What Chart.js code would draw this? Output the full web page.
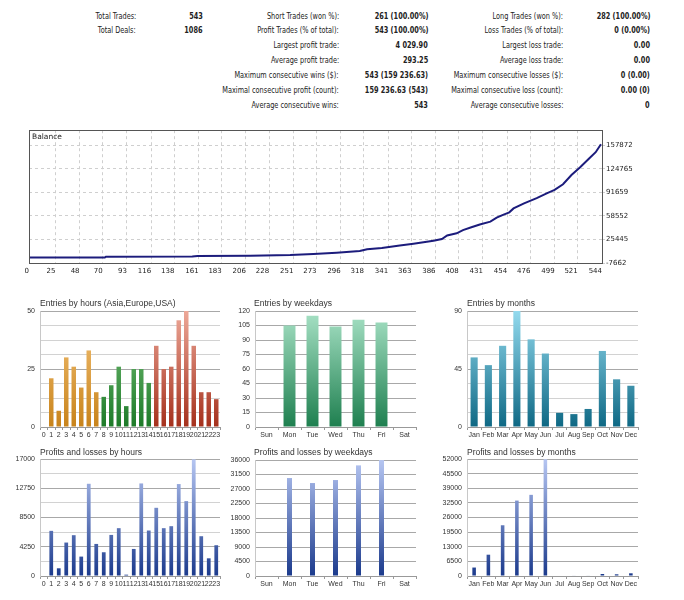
<!DOCTYPE html>
<html>
<head>
<meta charset="utf-8">
<script src="https://cdn.jsdelivr.net/npm/chart.js@4.4.1/dist/chart.umd.min.js"></script>
<style>
  body { margin: 0; background: #fff; width: 684px; height: 600px; position: relative; overflow: hidden; }
  .st { position: absolute; white-space: nowrap; font: 9px "DejaVu Sans Condensed", "DejaVu Sans", sans-serif; color: #222; line-height: 12px; text-align: right; transform: scaleX(0.81); transform-origin: right center; }
  .st.v { font-weight: bold; }
  .ttl { position: absolute; white-space: nowrap; font: 8.5px "Liberation Sans", Arial, sans-serif; color: #333; line-height: 12px; }
  canvas { position: absolute; }
</style>
</head>
<body>
<div id="stats"></div>
<canvas id="balance" width="684" height="155" style="left:0;top:125px"></canvas>
<div class="ttl" style="left:32px;top:132px;font:7.5px 'DejaVu Sans',sans-serif;color:#222">Balance</div>

<canvas id="hoursEntries" width="230" height="150" style="left:0;top:290px"></canvas>
<canvas id="daysEntries" width="230" height="150" style="left:225px;top:290px"></canvas>
<canvas id="monthsEntries" width="234" height="150" style="left:450px;top:290px"></canvas>
<canvas id="hoursProfit" width="230" height="150" style="left:0;top:440px"></canvas>
<canvas id="daysProfit" width="230" height="150" style="left:225px;top:440px"></canvas>
<canvas id="monthsProfit" width="256" height="150" style="left:428px;top:440px"></canvas>

<div class="ttl" style="left:40px;top:297px">Entries by hours (Asia,Europe,USA)</div>
<div class="ttl" style="left:254px;top:297px">Entries by weekdays</div>
<div class="ttl" style="left:467px;top:297px">Entries by months</div>
<div class="ttl" style="left:40px;top:446px">Profits and losses by hours</div>
<div class="ttl" style="left:254px;top:446px">Profits and losses by weekdays</div>
<div class="ttl" style="left:467px;top:446px">Profits and losses by months</div>

<script>
// summary table (label, value) x 3 columns
const statRows = [
  ["Total Trades:", "543", "Short Trades (won %):", "261 (100.00%)", "Long Trades (won %):", "282 (100.00%)"],
  ["Total Deals:", "1086", "Profit Trades (% of total):", "543 (100.00%)", "Loss Trades (% of total):", "0 (0.00%)"],
  ["", "", "Largest profit trade:", "4 029.90", "Largest loss trade:", "0.00"],
  ["", "", "Average profit trade:", "293.25", "Average loss trade:", "0.00"],
  ["", "", "Maximum consecutive wins ($):", "543 (159 236.63)", "Maximum consecutive losses ($):", "0 (0.00)"],
  ["", "", "Maximal consecutive profit (count):", "159 236.63 (543)", "Maximal consecutive loss (count):", "0.00 (0)"],
  ["", "", "Average consecutive wins:", "543", "Average consecutive losses:", "0"],
];

// balance curve (trade number -> balance)
const balanceTrades = [0, 72, 73, 155, 160, 210, 248, 270, 292, 314, 321, 335, 352, 365, 384, 392, 397, 406, 412, 420, 428, 438, 444, 450, 456, 460, 470, 482, 492, 499, 507, 515, 523, 532, 538, 543];
const balanceValues = [0, 0, 1100, 1500, 2200, 2600, 3600, 4900, 6700, 9100, 11500, 13500, 17000, 19500, 23500, 26000, 31000, 34000, 38500, 42500, 46500, 50500, 56000, 60000, 63500, 69000, 76000, 83500, 90500, 95000, 103000, 116000, 126500, 139500, 148000, 159237];
const balanceXTicks = [0, 25, 48, 70, 93, 116, 138, 161, 183, 206, 228, 251, 273, 296, 318, 341, 363, 386, 408, 431, 454, 476, 499, 521, 544];
const balanceYTicks = [-7662, 25445, 58552, 91659, 124765, 157872];

const hourLabels = ["0", "1", "2", "3", "4", "5", "6", "7", "8", "9", "10", "11", "12", "13", "14", "15", "16", "17", "18", "19", "20", "21", "22", "23"];
const hourEntries = [0, 21, 7, 30, 26, 17, 33, 15, 13, 18, 26, 9, 25, 25, 19, 35, 25, 26, 46, 50, 35, 15, 15, 12];
const hourProfits = [0, 6560, 1120, 4860, 5930, 2820, 13400, 4660, 3450, 5970, 6950, 190, 3930, 13450, 6610, 9910, 6950, 7240, 13360, 10880, 16950, 5780, 2570, 4470];

const dayLabels = ["Sun", "Mon", "Tue", "Wed", "Thu", "Fri", "Sat"];
const dayEntries = [0, 105, 115, 104, 111, 108, 0];
const dayProfits = [0, 30400, 28850, 29780, 34330, 35980, 0];

const monthLabels = ["Jan", "Feb", "Mar", "Apr", "May", "Jun", "Jul", "Aug", "Sep", "Oct", "Nov", "Dec"];
const monthEntries = [54, 48, 63, 90, 68, 57, 11, 10, 14, 59, 37, 32];
const monthProfits = [3760, 9470, 22550, 33520, 36070, 51900, 0, 200, 200, 900, 750, 1200];

// ---- summary text
const statRowY = [10, 24, 39, 54, 69, 84, 99];
const statRight = [136, 203, 339, 428, 563, 650];
const statsDiv = document.getElementById("stats");
statRows.forEach((row, r) => {
  row.forEach((txt, c) => {
    if (!txt) return;
    const d = document.createElement("div");
    d.className = "st" + (c % 2 ? " v" : "");
    d.style.right = (684 - statRight[c]) + "px";
    d.style.top = statRowY[r] + "px";
    d.textContent = txt;
    statsDiv.appendChild(d);
  });
});

Chart.defaults.font.family = "'Liberation Sans', Arial, sans-serif";
Chart.defaults.font.size = 7;
Chart.defaults.color = "#444";

// draws the frame round the plot area
const frame = {
  id: "frame",
  afterDraw(chart, args, opts) {
    if (!opts.color) return;
    const a = chart.chartArea, c = chart.ctx;
    c.save();
    c.strokeStyle = opts.color;
    c.lineWidth = 1;
    c.strokeRect(Math.round(a.left) + 0.5, Math.round(a.top) + 0.5, Math.round(a.right - a.left), Math.round(a.bottom - a.top));
    c.restore();
  },
};

// ---- balance
new Chart(document.getElementById("balance"), {
  type: "line",
  data: {
    datasets: [{
      data: balanceTrades.map((t, i) => ({ x: t, y: balanceValues[i] })),
      borderColor: "#1c1c7c",
      borderWidth: 2,
      pointRadius: 0,
      tension: 0,
    }],
  },
  options: {
    responsive: false,
    animation: false,
    layout: { padding: { left: 29, top: 5, right: 0, bottom: 0 } },
    plugins: { legend: { display: false }, tooltip: { enabled: false }, frame: { color: "#555" } },
    scales: {
      x: {
        type: "linear", min: 0, max: 544,
        afterBuildTicks: (s) => { s.ticks = balanceXTicks.map((v) => ({ value: v })); },
        afterFit: (s) => { s.height = 17; },
        ticks: { autoSkip: false, maxRotation: 0, padding: 4, align: "end", color: "#222", font: { family: "'DejaVu Sans', sans-serif", size: 7 }, callback: (v) => String(v) },
        grid: { color: "#cfcfcf", drawTicks: false },
        border: { display: false, dash: [3, 3] },
      },
      y: {
        position: "right", min: -7662, max: 178900,
        afterBuildTicks: (s) => { s.ticks = balanceYTicks.map((v) => ({ value: v })); },
        afterFit: (s) => { s.width = 82; },
        ticks: { padding: 1, color: "#222", font: { family: "'DejaVu Sans', sans-serif", size: 7 }, callback: (v) => String(v) },
        grid: { color: "#cfcfcf", drawTicks: true, tickLength: 3 },
        border: { display: false, dash: [3, 3] },
      },
    },
  },
  plugins: [frame],
});

// ---- bar charts
function gradient(top, bottom) {
  return (ctx) => {
    const a = ctx.chart.chartArea;
    if (!a) return bottom;
    const g = ctx.chart.ctx.createLinearGradient(0, a.top, 0, a.bottom);
    g.addColorStop(0, top);
    g.addColorStop(1, bottom);
    return g;
  };
}

// canvas box and wanted plot area, in page pixels
function barChart(id, box, area, labels, values, color, yMax, yStep, labelStep, barPct) {
  const yWidth = area[0] - box[0];
  const padTop = area[1] - box[1];
  const padRight = box[0] + box[2] - area[2];
  const xHeight = box[1] + box[3] - area[3];
  const isLabel = (v) => Math.abs(v / labelStep - Math.round(v / labelStep)) < 1e-6;
  return new Chart(document.getElementById(id), {
    type: "bar",
    data: {
      labels: labels,
      datasets: [{ data: values, backgroundColor: color, barPercentage: barPct, categoryPercentage: 1 }],
    },
    options: {
      responsive: false,
      animation: false,
      layout: { padding: { left: 0, top: padTop, right: padRight, bottom: 0 } },
      plugins: { legend: { display: false }, tooltip: { enabled: false } },
      scales: {
        x: {
          afterFit: (s) => { s.height = xHeight; },
          ticks: { autoSkip: false, maxRotation: 0, padding: 1, color: "#333" },
          grid: { drawOnChartArea: false, drawTicks: true, tickLength: 3, color: "#999" },
          border: { color: "#999" },
        },
        y: {
          min: 0, max: yMax,
          afterFit: (s) => { s.width = yWidth; },
          ticks: { stepSize: yStep, padding: 5, color: "#333", callback: (v) => (isLabel(v) ? String(v) : "") },
          grid: { drawTicks: false, color: (c) => (c.tick && isLabel(c.tick.value) ? "#a8a8a8" : "#d2d2d2") },
          border: { color: "#c8c8c8" },
        },
      },
    },
  });
}

const orange = gradient("#f6c57c", "#c8831a");
const green = gradient("#7fc77f", "#1d7a28");
const red = gradient("#eda898", "#a5301c");
// Asia 0-7, Europe 8-14, USA 15-23
const hourColor = (ctx) => (ctx.dataIndex < 8 ? orange : ctx.dataIndex < 15 ? green : red)(ctx);

barChart("hoursEntries", [0, 290, 230, 150], [40, 311, 220, 427], hourLabels, hourEntries, hourColor, 50, 6.25, 25, 0.6);
barChart("daysEntries", [225, 290, 230, 150], [255, 311, 416, 427], dayLabels, dayEntries, gradient("#a8e2c6", "#1e7f4f"), 120, 15, 15, 0.52);
barChart("monthsEntries", [450, 290, 234, 150], [467, 311, 638, 427], monthLabels, monthEntries, gradient("#93daee", "#0e6884"), 90, 11.25, 45, 0.5);

const blue = gradient("#b6c6f2", "#1b3a8c");
barChart("hoursProfit", [0, 440, 230, 150], [40, 459, 220, 576], hourLabels, hourProfits, blue, 17000, 2125, 4250, 0.5);
barChart("daysProfit", [225, 440, 230, 150], [255, 460, 416, 576], dayLabels, dayProfits, blue, 36000, 4500, 4500, 0.22);
barChart("monthsProfit", [428, 440, 256, 150], [467, 459, 638, 576], monthLabels, monthProfits, blue, 52000, 6500, 6500, 0.25);
</script>
</body>
</html>
